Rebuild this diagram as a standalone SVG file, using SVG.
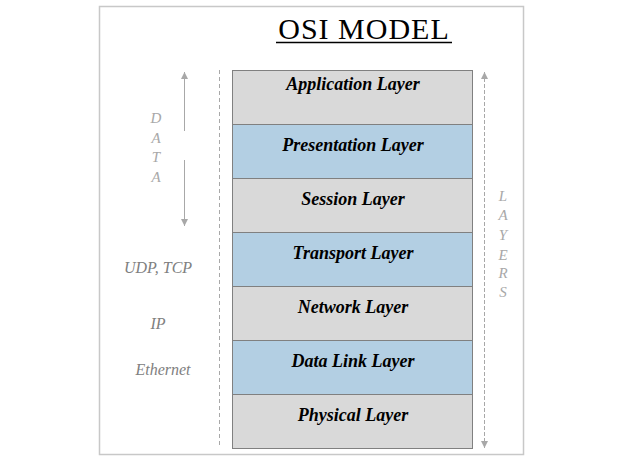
<svg xmlns="http://www.w3.org/2000/svg" width="625" height="462" viewBox="0 0 625 462">
<defs>
<style>
.layer text{font-family:"Liberation Serif",serif;font-weight:bold;font-style:italic;font-size:18px;fill:#000;text-anchor:middle}
.g{fill:#d9d9d9;stroke:#808080;stroke-width:1}
.b{fill:#b3cfe3;stroke:#808080;stroke-width:1}
.lbl{font-family:"Liberation Serif",serif;font-style:italic;font-size:15px;fill:#a8a8a8;text-anchor:middle}
.proto{font-family:"Liberation Serif",serif;font-style:italic;font-size:16px;fill:#808080;text-anchor:middle}
.arr{stroke:#a8a8a8;stroke-width:1;fill:none}
</style>
<marker id="ah" viewBox="0 0 8 8" refX="8" refY="4" markerWidth="7" markerHeight="7" orient="auto-start-reverse" markerUnits="userSpaceOnUse">
<path d="M0,0 L8,4 L0,8 Z" fill="#a8a8a8"/>
</marker>
</defs>
<rect x="0" y="0" width="625" height="462" fill="#fff"/>
<rect x="99.5" y="6.5" width="424" height="448" fill="#fff" stroke="#c8c8c8" stroke-width="1.5"/>
<g id="title">
<text x="364" y="39" font-family="Liberation Serif,serif" font-size="30" text-anchor="middle" fill="#000" letter-spacing="1">OSI MODEL</text>
<line x1="276" y1="42.5" x2="452" y2="42.5" stroke="#000" stroke-width="1.5"/>
</g>
<g id="application" class="layer"><rect class="g" x="232.5" y="70.5" width="240" height="54"/><text x="353" y="90">Application Layer</text></g>
<g id="presentation" class="layer"><rect class="b" x="232.5" y="124.5" width="240" height="54"/><text x="353" y="151">Presentation Layer</text></g>
<g id="session" class="layer"><rect class="g" x="232.5" y="178.5" width="240" height="54"/><text x="353" y="205">Session Layer</text></g>
<g id="transport" class="layer"><rect class="b" x="232.5" y="232.5" width="240" height="54"/><text x="353" y="259">Transport Layer</text></g>
<g id="network" class="layer"><rect class="g" x="232.5" y="286.5" width="240" height="54"/><text x="353" y="313">Network Layer</text></g>
<g id="datalink" class="layer"><rect class="b" x="232.5" y="340.5" width="240" height="54"/><text x="353" y="367">Data Link Layer</text></g>
<g id="physical" class="layer"><rect class="g" x="232.5" y="394.5" width="240" height="54"/><text x="353" y="421">Physical Layer</text></g>
<g id="connectors">
<line class="arr" x1="219.5" y1="70" x2="219.5" y2="448" stroke-dasharray="4,3"/>
<line class="arr" x1="184.5" y1="72" x2="184.5" y2="131" marker-start="url(#ah)"/>
<line class="arr" x1="184.5" y1="160" x2="184.5" y2="226" marker-end="url(#ah)"/>
<line class="arr" x1="484.5" y1="72" x2="484.5" y2="448" stroke-dasharray="4,2" marker-start="url(#ah)" marker-end="url(#ah)"/>
</g>
<g id="data-label" class="lbl">
<text x="156" y="123">D</text><text x="156" y="143">A</text><text x="156" y="162">T</text><text x="156" y="182">A</text>
</g>
<g id="layers-label" class="lbl">
<text x="503" y="201">L</text><text x="503" y="220">A</text><text x="503" y="240">Y</text><text x="503" y="260">E</text><text x="503" y="278">R</text><text x="503" y="297">S</text>
</g>
<g id="protocols" class="proto">
<text x="158" y="273">UDP, TCP</text>
<text x="158" y="329">IP</text>
<text x="163" y="375">Ethernet</text>
</g>
</svg>
